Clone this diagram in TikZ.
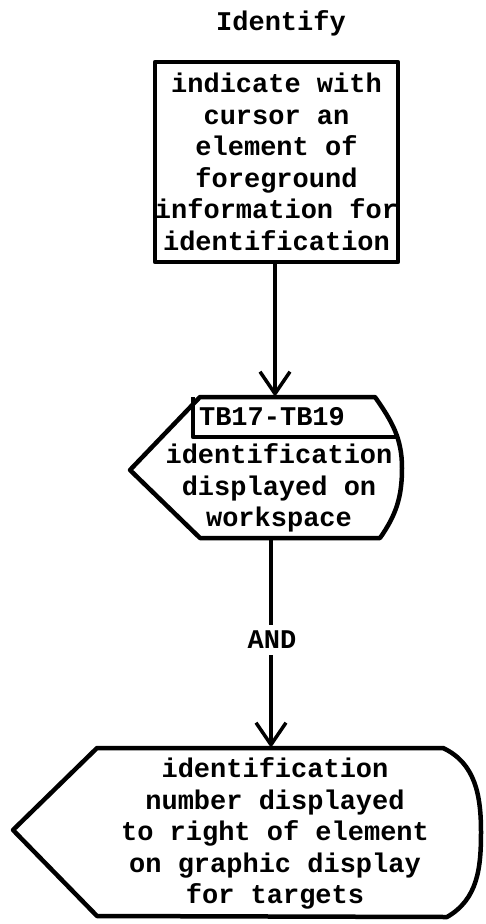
\documentclass[tikz,border=0pt]{standalone}
\usepackage{fontspec}
\setmainfont{Liberation Mono}
\usetikzlibrary{arrows.meta}
\begin{document}
\begin{tikzpicture}[x=1pt,y=-1pt,
  every node/.style={font=\fontsize{27}{31.5}\selectfont\bfseries, inner sep=0pt},
  outline/.style={line width=4.5pt, line join=round},
  flow/.style={line width=4pt, -{Straight Barb[length=22pt,width=30pt,line width=3.5pt]}},
  lbl/.style={align=center}]
\useasboundingbox[fill=white] (0,0) rectangle (485,924);
\node (title) at (281,23) {Identify};
\node[draw, outline, minimum width=243pt, minimum height=200pt, lbl] (box1) at (276.5,162)
  {indicate with\\cursor an\\element of\\foreground\\information for\\identification};
% display 1
\node[minimum width=272pt, minimum height=141pt] (d1) at (266,467.5) {};
\draw[outline] (200,397) -- (375,397) to[out=-55,in=90] (402,468) to[out=-90,in=55] (380,538)
  -- (200,538) -- (130,470) -- cycle;
\draw[outline] (193,397) -- (193,437) -- (396,437);
\node (tb) at (272,417) {TB17-TB19};
\node[lbl] (t1) at (279,488) {identification\\displayed on\\workspace};
% display 2
\node[minimum width=470pt, minimum height=169pt] (d2) at (248,832.5) {};
\draw[outline] (97,748) -- (443,748) to[out=-25,in=90] (481,832) to[out=-90,in=30] (447,917)
  -- (97,916) -- (13,830) -- cycle;
\node[lbl] (t2) at (275,833.5) {identification\\number displayed\\to right of element\\on graphic display\\for targets};
% connectors
\coordinate (c1) at (275,0);
\coordinate (c2) at (271,0);
\draw[flow] (box1.south -| c1) -- (d1.north -| c1);
\draw[flow] (d1.south -| c2) -- (d2.north -| c2);
\node[fill=white, inner xsep=2pt, inner ysep=6pt] (and) at (272,640) {AND};
\end{tikzpicture}
\end{document}
